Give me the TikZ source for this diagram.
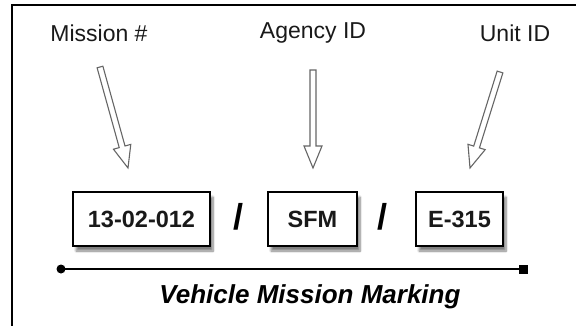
\documentclass[tikz,border=0pt]{standalone}
\usepackage{fontspec}
\setmainfont{Liberation Sans}
\usetikzlibrary{calc,positioning,shadows.blur}

% hollow block arrow from #1 to #2
\newcommand{\hollowarrow}[2]{%
  \path[hollow] let \p1=($(#2)-(#1)$), \n1={atan2(\y1,\x1)}, \n2={veclen(\x1,\y1)} in
    [shift={(#1)},rotate=\n1] (0,3) -- ({\n2-22},3) -- ({\n2-22},9) -- ({\n2},0)
    -- ({\n2-22},-9) -- ({\n2-22},-3) -- (0,-3) -- cycle;}

\begin{document}
\begin{tikzpicture}[x=1pt,y=-1pt,
  hollow/.style={draw=black!60,fill=white,line width=1.1pt,line join=miter},
  tag/.style={font=\fontsize{23}{26}\selectfont,text=black!90,inner sep=0pt},
  field/.style={draw,line width=1.3pt,fill=white,minimum height=54pt,inner sep=0pt,
    font=\fontsize{23.5}{26}\selectfont\bfseries,text=black!90,
    blur shadow={shadow xshift=3pt,shadow yshift=-5pt,shadow blur steps=8,shadow opacity=50}},
  sep/.style={font=\fontsize{36}{38}\selectfont\bfseries,inner sep=0pt}]

  \useasboundingbox (0,0) rectangle (576,326);
  \draw[line width=2pt] (12,340) -- (12,5) -- (590,5);

  \node[tag] (mn) at (99,33)  {Mission \#};
  \node[tag] (an) at (313,33) {Agency ID};
  \node[tag] (un) at (515,33) {Unit ID};

  \node[field,minimum width=137pt] (mf) at (141.5,219) {13-02-012};
  \node[field,minimum width=89pt]  (af) at (312.5,219) {SFM};
  \node[field,minimum width=87pt]  (uf) at (459.5,219) {E-315};
  \node[sep] (s1) at (238,217) {/};
  \node[sep] (s2) at (382,217) {/};

  % arrow ends
  \coordinate (ma) at (100,67);  \coordinate (mt) at (128,168);
  \coordinate (aa) at (313,70);  \coordinate (at) at (313,168);
  \coordinate (ua) at (500,72);  \coordinate (ut) at (470,168);
  \hollowarrow{ma}{mt}
  \hollowarrow{aa}{at}
  \hollowarrow{ua}{ut}

  % time line
  \coordinate (lb) at (61,269);
  \coordinate (le) at (523,269);
  \draw[line width=1.2pt] (lb) -- (le);
  \fill (lb) circle (4.5);
  \fill ($(le)+(-4.5,-4.5)$) rectangle ($(le)+(4.5,4.5)$);

  \node[font=\fontsize{26}{30}\selectfont\bfseries\itshape,inner sep=0pt] (title) at (310,297)
    {Vehicle Mission Marking};
\end{tikzpicture}
\end{document}
